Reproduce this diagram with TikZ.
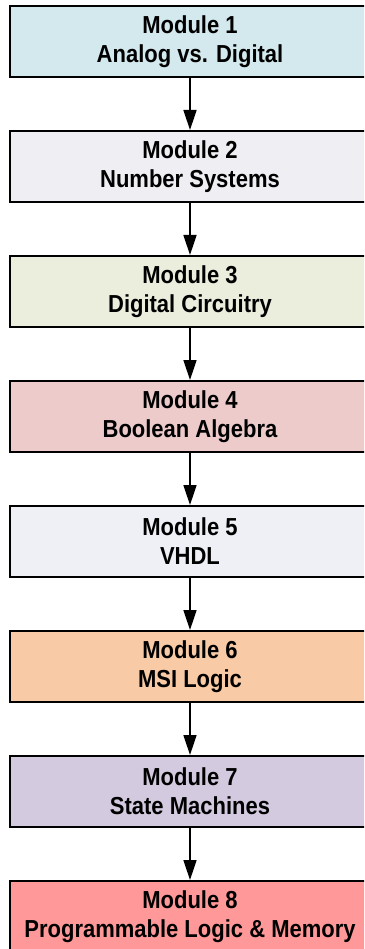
\documentclass[tikz,border=0pt]{standalone}
\usepackage{fontspec}
\setmainfont{Liberation Sans}[FakeStretch=0.894]
\usetikzlibrary{positioning,arrows.meta}
\definecolor{modone}{HTML}{D3E9EE}
\definecolor{modtwo}{HTML}{EFEEF3}
\definecolor{modthree}{HTML}{EBEEDD}
\definecolor{modfour}{HTML}{EDCBCB}
\definecolor{modfive}{HTML}{EEF0F6}
\definecolor{modsix}{HTML}{F8CAA5}
\definecolor{modseven}{HTML}{D4CADF}
\definecolor{modeight}{HTML}{FF9999}

\begin{document}
\begin{tikzpicture}[x=1pt,y=1pt]
                        \tikzstyle{module}=[draw, line width=2pt, minimum width=361pt, minimum height=71pt, inner sep=0pt, align=center, font=\fontsize{24.6}{29}\selectfont\bfseries]
                        \tikzstyle{flow}=[line width=1.5pt, -{Triangle[length=20pt,width=13pt]}]
                        \useasboundingbox (0,0) rectangle (364,-949);
                        \clip (0,0) rectangle (364,-949);
                        \node[module, fill=modone] (m1) at (190,-41.5) {Module 1\\Analog vs. Digital};
                        \node[module, fill=modtwo, below=52pt of m1] (m2) {Module 2\\Number Systems};
                        \node[module, fill=modthree, below=52pt of m2] (m3) {Module 3\\Digital Circuitry};
                        \node[module, fill=modfour, below=52pt of m3] (m4) {Module 4\\Boolean Algebra};
                        \node[module, fill=modfive, below=52pt of m4] (m5) {Module 5\\VHDL};
                        \node[module, fill=modsix, below=52pt of m5] (m6) {Module 6\\MSI Logic};
                        \node[module, fill=modseven, below=52pt of m6] (m7) {Module 7\\State Machines};
                        \node[module, fill=modeight, below=52pt of m7] (m8) {Module 8\\Programmable Logic \& Memory};
                        \draw[flow] (m1) -- (m2);
                        \draw[flow] (m2) -- (m3);
                        \draw[flow] (m3) -- (m4);
                        \draw[flow] (m4) -- (m5);
                        \draw[flow] (m5) -- (m6);
                        \draw[flow] (m6) -- (m7);
                        \draw[flow] (m7) -- (m8);
\end{tikzpicture}
\end{document}
